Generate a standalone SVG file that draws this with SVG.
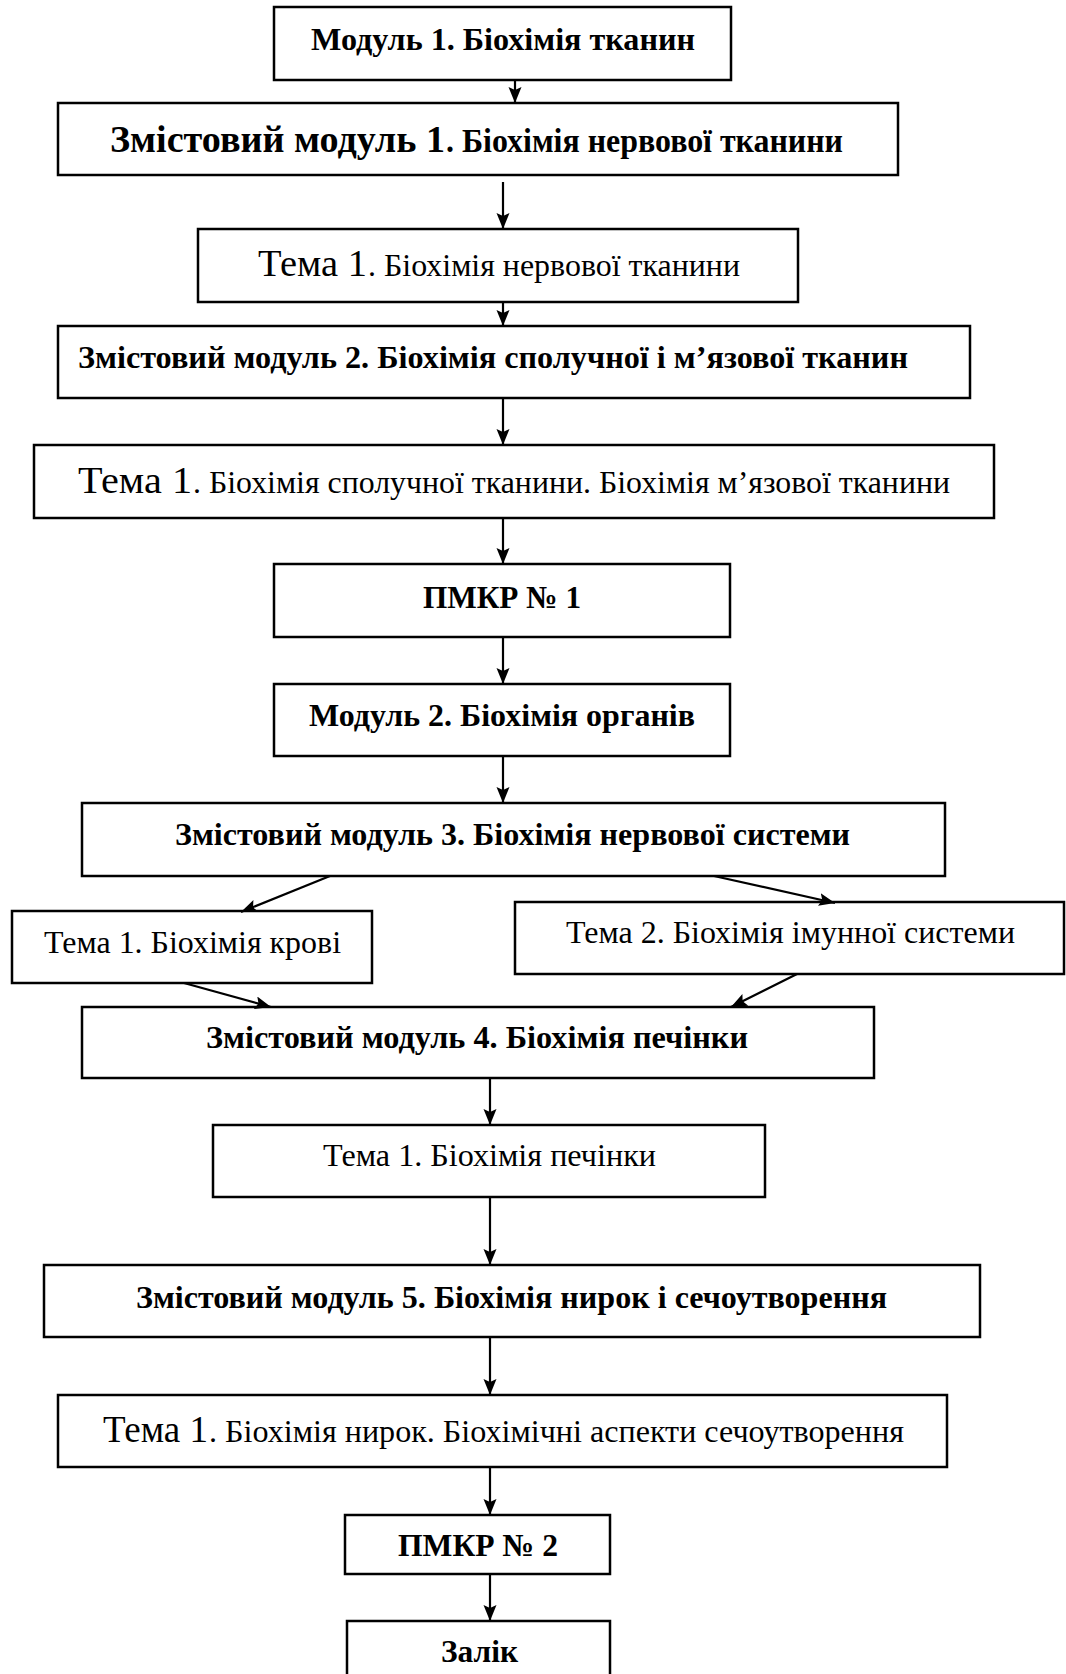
<svg xmlns="http://www.w3.org/2000/svg" width="1066" height="1674" viewBox="0 0 1066 1674">
<style>
rect.box{fill:#fff;stroke:#000;stroke-width:2.5}
text{font-family:"Liberation Serif","Times New Roman",serif;fill:#000}
.b{font-weight:bold;font-size:32px}
.r{font-size:32px}
.bb{font-weight:bold;font-size:37px}
.bm{font-weight:bold;font-size:33px}
.rb{font-size:37px}
.con line{stroke:#000;stroke-width:2.2;marker-end:url(#ah)}
</style>
<defs>
<marker id="ah" markerUnits="userSpaceOnUse" markerWidth="17" markerHeight="14" refX="16" refY="6.5" orient="auto">
<path d="M0,0 L16,6.5 L0,13 L3,6.5 z" fill="#000"/>
</marker>
</defs>
<rect width="1066" height="1674" fill="#fff"/>
<g id="n1"><rect class="box" x="274" y="7" width="457" height="73"/><text class="b" x="311" y="50" textLength="384" lengthAdjust="spacingAndGlyphs">Модуль 1. Біохімія тканин</text></g>
<g id="n2"><rect class="box" x="58" y="103" width="840" height="72"/><text class="bb" x="110" y="152" textLength="335" lengthAdjust="spacingAndGlyphs">Змістовий модуль 1</text><text class="bm" x="446" y="152" textLength="397" lengthAdjust="spacingAndGlyphs">. Біохімія нервової тканини</text></g>
<g id="n3"><rect class="box" x="198" y="229" width="600" height="73"/><text class="rb" x="258" y="276" textLength="109" lengthAdjust="spacingAndGlyphs">Тема 1</text><text class="r" x="368" y="276" textLength="372" lengthAdjust="spacingAndGlyphs">. Біохімія нервової тканини</text></g>
<g id="n4"><rect class="box" x="58" y="326" width="912" height="72"/><text class="b" x="78" y="368" textLength="830" lengthAdjust="spacingAndGlyphs">Змістовий модуль 2. Біохімія сполучної і м’язової тканин</text></g>
<g id="n5"><rect class="box" x="34" y="445" width="960" height="73"/><text class="rb" x="78" y="493" textLength="114" lengthAdjust="spacingAndGlyphs">Тема 1</text><text class="r" x="193" y="493" textLength="757" lengthAdjust="spacingAndGlyphs">. Біохімія сполучної тканини. Біохімія м’язової тканини</text></g>
<g id="n6"><rect class="box" x="274" y="564" width="456" height="73"/><text class="b" x="423" y="608" textLength="158" lengthAdjust="spacingAndGlyphs">ПМКР № 1</text></g>
<g id="n7"><rect class="box" x="274" y="684" width="456" height="72"/><text class="b" x="309" y="726" textLength="386" lengthAdjust="spacingAndGlyphs">Модуль 2. Біохімія органів</text></g>
<g id="n8"><rect class="box" x="82" y="803" width="863" height="73"/><text class="b" x="175" y="845" textLength="675" lengthAdjust="spacingAndGlyphs">Змістовий модуль 3. Біохімія нервової системи</text></g>
<g id="n9"><rect class="box" x="12" y="911" width="360" height="72"/><text class="r" x="44" y="953" textLength="297" lengthAdjust="spacingAndGlyphs">Тема 1. Біохімія крові</text></g>
<g id="n10"><rect class="box" x="515" y="902" width="549" height="72"/><text class="r" x="566" y="943" textLength="449" lengthAdjust="spacingAndGlyphs">Тема 2. Біохімія імунної системи</text></g>
<g id="n11"><rect class="box" x="82" y="1007" width="792" height="71"/><text class="b" x="206" y="1048" textLength="542" lengthAdjust="spacingAndGlyphs">Змістовий модуль 4. Біохімія печінки</text></g>
<g id="n12"><rect class="box" x="213" y="1125" width="552" height="72"/><text class="r" x="323" y="1166" textLength="333" lengthAdjust="spacingAndGlyphs">Тема 1. Біохімія печінки</text></g>
<g id="n13"><rect class="box" x="44" y="1265" width="936" height="72"/><text class="b" x="136" y="1308" textLength="751" lengthAdjust="spacingAndGlyphs">Змістовий модуль 5. Біохімія нирок і сечоутворення</text></g>
<g id="n14"><rect class="box" x="58" y="1395" width="889" height="72"/><text class="rb" x="103" y="1442" textLength="105" lengthAdjust="spacingAndGlyphs">Тема 1</text><text class="r" x="209" y="1442" textLength="695" lengthAdjust="spacingAndGlyphs">. Біохімія нирок. Біохімічні аспекти сечоутворення</text></g>
<g id="n15"><rect class="box" x="345" y="1515" width="265" height="59"/><text class="b" x="398" y="1556" textLength="160" lengthAdjust="spacingAndGlyphs">ПМКР № 2</text></g>
<g id="n16"><rect class="box" x="347" y="1621" width="263" height="60"/><text class="b" x="441" y="1662" textLength="77" lengthAdjust="spacingAndGlyphs">Залік</text></g>
<g id="connectors" class="con">
<line x1="515" y1="80" x2="515" y2="103"/>
<line x1="503" y1="182" x2="503" y2="229"/>
<line x1="503" y1="302" x2="503" y2="326"/>
<line x1="503" y1="398" x2="503" y2="445"/>
<line x1="503" y1="518" x2="503" y2="564"/>
<line x1="503" y1="637" x2="503" y2="684"/>
<line x1="503" y1="756" x2="503" y2="803"/>
<line x1="330" y1="876" x2="241" y2="912"/>
<line x1="714" y1="876" x2="835" y2="903"/>
<line x1="184" y1="983" x2="271" y2="1007"/>
<line x1="797" y1="974" x2="731" y2="1007"/>
<line x1="490" y1="1078" x2="490" y2="1125"/>
<line x1="490" y1="1197" x2="490" y2="1265"/>
<line x1="490" y1="1337" x2="490" y2="1395"/>
<line x1="490" y1="1467" x2="490" y2="1515"/>
<line x1="490" y1="1574" x2="490" y2="1621"/>
</g>
</svg>
